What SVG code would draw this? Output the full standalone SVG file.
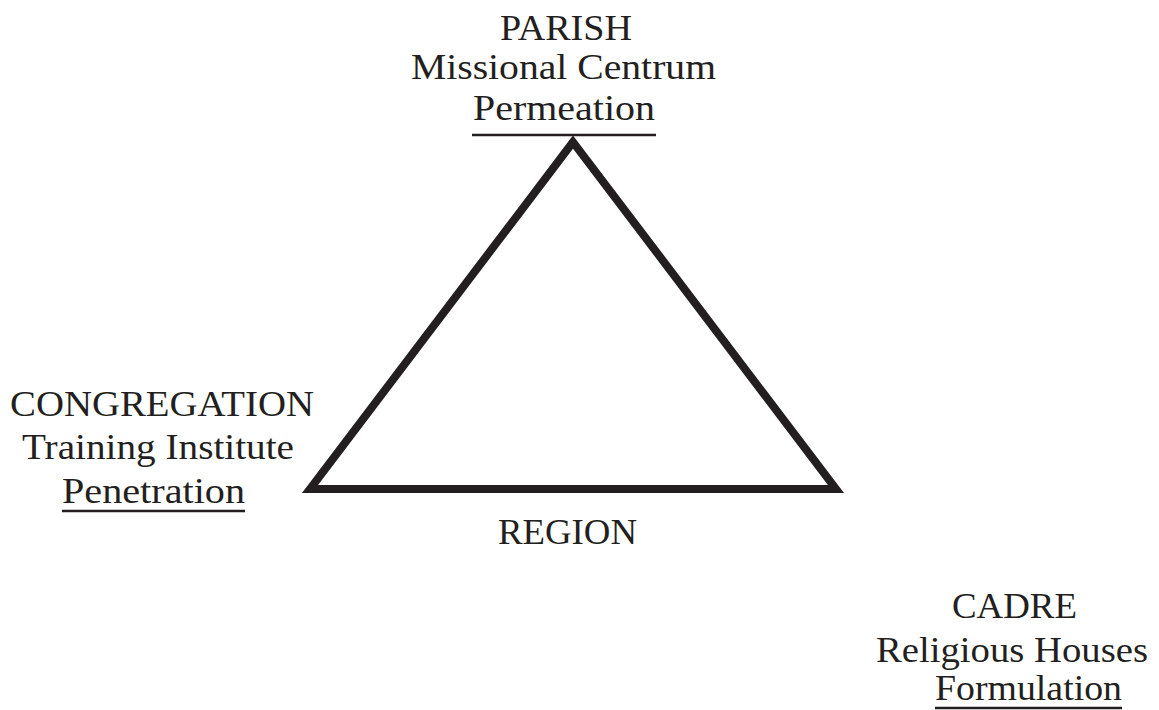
<svg xmlns="http://www.w3.org/2000/svg" width="1159" height="710" viewBox="0 0 1159 710">
<style>
text{font-family:"Liberation Serif","Times New Roman",serif;font-size:35px;fill:#231f20}
.ul{stroke:#231f20;stroke-width:2.5}
</style>
<rect width="1159" height="710" fill="#fff"/>
<g id="connectors">
<polygon points="573,142 310,489 836,489" fill="none" stroke="#231f20" stroke-width="8" stroke-linejoin="miter" stroke-miterlimit="10"/>
</g>
<g id="parish">
<text x="500" y="40" textLength="132" lengthAdjust="spacingAndGlyphs">PARISH</text>
<text x="411" y="79" textLength="305" lengthAdjust="spacingAndGlyphs">Missional Centrum</text>
<text x="473" y="120" textLength="182" lengthAdjust="spacingAndGlyphs">Permeation</text>
<line class="ul" x1="472" y1="135" x2="656" y2="135"/>
</g>
<g id="congregation">
<text x="10" y="416" textLength="304" lengthAdjust="spacingAndGlyphs">CONGREGATION</text>
<text x="22" y="459" textLength="272" lengthAdjust="spacingAndGlyphs">Training Institute</text>
<text x="62" y="503" textLength="183" lengthAdjust="spacingAndGlyphs">Penetration</text>
<line class="ul" x1="62" y1="511" x2="245" y2="511"/>
</g>
<g id="region">
<text x="498" y="544" textLength="139" lengthAdjust="spacingAndGlyphs">REGION</text>
</g>
<g id="cadre">
<text x="952" y="618" textLength="125" lengthAdjust="spacingAndGlyphs">CADRE</text>
<text x="876" y="662" textLength="272" lengthAdjust="spacingAndGlyphs">Religious Houses</text>
<text x="935" y="700" textLength="187" lengthAdjust="spacingAndGlyphs">Formulation</text>
<line class="ul" x1="935" y1="708" x2="1122" y2="708"/>
</g>
</svg>
